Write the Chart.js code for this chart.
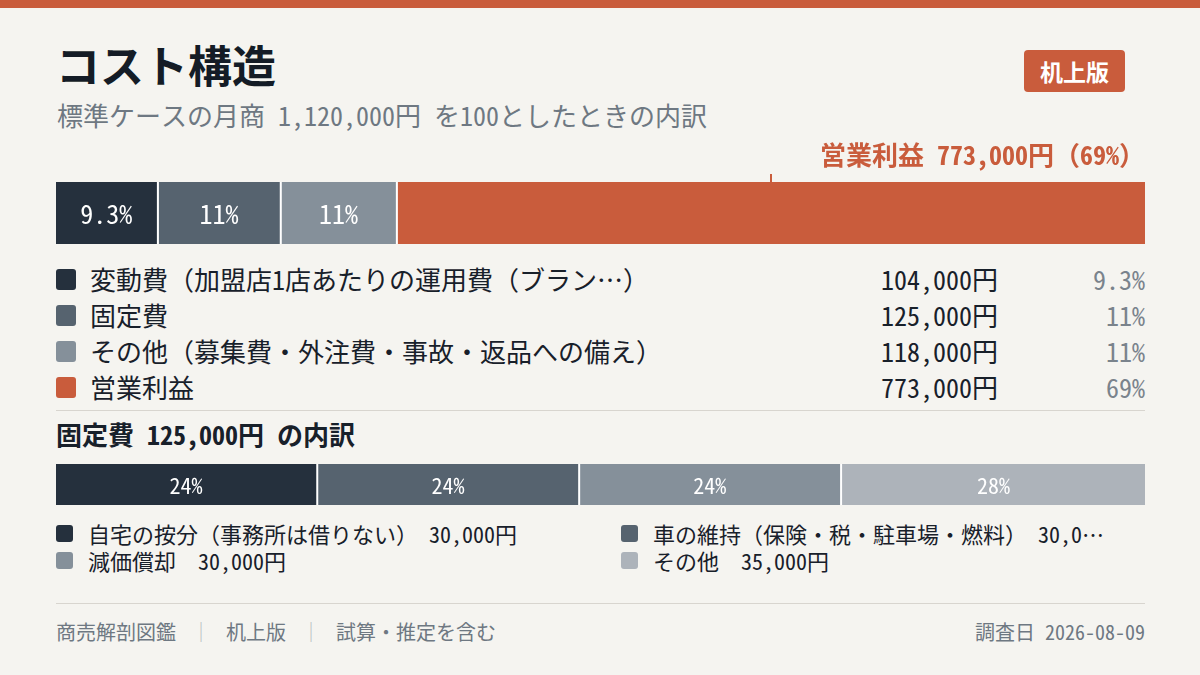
<!DOCTYPE html>
<html lang="ja">
<head>
<meta charset="utf-8">
<script src="https://cdn.jsdelivr.net/npm/chart.js@4.4.0/dist/chart.umd.min.js"></script>
<style>
  body {
    margin: 0;
    width: 1200px;
    height: 675px;
    background: #f5f4f0;
    font-family: "Noto Sans Mono CJK JP", "Noto Sans CJK JP", sans-serif;
    color: #18202a;
    position: relative;
    overflow: hidden;
  }
  .topbar { position: absolute; left: 0; top: 0; width: 1200px; height: 8px; background: #c95c3c; }
  .title { position: absolute; left: 56px; top: 42px; font-size: 44px; line-height: 44px; font-weight: 700; color: #141c26; }
  .subtitle { position: absolute; left: 57px; top: 102px; font-size: 26px; line-height: 26px; color: #6e7882; white-space: pre; }
  .badge {
    position: absolute; left: 1024px; top: 50px; width: 101px; height: 42px;
    background: #c95c3c; border-radius: 4px; color: #fff;
    font-size: 23px; font-weight: 700; line-height: 42px; text-align: center;
  }
  canvas { position: absolute; left: 56px; }
  #mainBar { top: 140px; }
  #fixedBar { top: 464px; }
  .legend { position: absolute; left: 56px; top: 261px; width: 1089px; }
  .row { position: relative; height: 36px; font-size: 26px; line-height: 36px; white-space: nowrap; }
  .sw { position: absolute; left: 0; top: 8px; width: 20px; height: 21px; border-radius: 3px; }
  .row .name { position: absolute; left: 34px; }
  .row .amt { position: absolute; right: 147px; color: #18202a; }
  .row .pct { position: absolute; right: 0; color: #7a838c; }
  .rule { position: absolute; left: 56px; width: 1089px; height: 1px; background: #d8d5cf; }
  .subhead { position: absolute; left: 56px; top: 421px; font-size: 26px; line-height: 26px; font-weight: 700; color: #18202a; white-space: pre; }
  .legend2 {
    position: absolute; left: 56px; top: 517px; width: 1053px;
    display: grid; grid-template-columns: 565px 488px; grid-auto-rows: 27px;
  }
  .item {
    position: relative; height: 32px; font-size: 22px; line-height: 32px;
    white-space: pre; overflow: hidden; text-overflow: ellipsis; padding-left: 32px;
  }
  .item .sw { top: 8px; width: 17px; height: 17px; }
  .footer { position: absolute; left: 56px; top: 620px; width: 1089px; font-size: 20px; line-height: 24px; color: #6e7882; }
  .footer .sep { color: #b9bdc2; margin: 0 15px; }
  .footer .date { position: absolute; right: 0; top: 0; }
</style>
</head>
<body>
<div class="topbar"></div>
<div class="title">コスト構造</div>
<div class="subtitle">標準ケースの月商 1,120,000円 を100としたときの内訳</div>
<div class="badge">机上版</div>

<canvas id="mainBar" width="1089" height="104"></canvas>
<div class="legend" id="legend"></div>
<div class="rule" style="top:410px"></div>

<div class="subhead">固定費 125,000円 の内訳</div>
<canvas id="fixedBar" width="1089" height="41"></canvas>
<div class="legend2" id="legend2"></div>

<div class="rule" style="top:603px"></div>
<div class="footer">商売解剖図鑑<span class="sep">｜</span>机上版<span class="sep">｜</span>試算・推定を含む<span class="date">調査日 2026-08-09</span></div>

<script>
const FONT = "'Noto Sans Mono CJK JP', 'Noto Sans CJK JP', sans-serif";
const BAR_WIDTH = 1089;
const GAP_PX = 2;

// 月商の内訳
const costNames = [
  '変動費（加盟店1店あたりの運用費（ブラン…）',
  '固定費',
  'その他（募集費・外注費・事故・返品への備え）',
  '営業利益',
];
const costValues = [104000, 125000, 118000, 773000];
const costColors = ['#25303d', '#56636f', '#85909a', '#c95c3c'];

// 固定費の内訳
const fixedNames = [
  '自宅の按分（事務所は借りない）',
  '車の維持（保険・税・駐車場・燃料）',
  '減価償却',
  'その他',
];
const fixedValues = [30000, 30000, 30000, 35000];
const fixedColors = ['#25303d', '#56636f', '#85909a', '#adb3ba'];

const sum = (arr) => arr.reduce((a, b) => a + b, 0);
const costTotal = sum(costValues);
const fixedTotal = sum(fixedValues);

function pct(v, total) {
  const p = (v / total) * 100;
  return (p < 10 ? p.toFixed(1) : Math.round(p)) + '%';
}
const yen = (v) => v.toLocaleString('en-US') + '円';

// 棒の中に％を書く
const segmentLabels = {
  id: 'segmentLabels',
  afterDatasetsDraw(chart, args, opts) {
    const ctx = chart.ctx;
    ctx.save();
    ctx.font = opts.font;
    ctx.fillStyle = '#ffffff';
    ctx.textAlign = 'center';
    ctx.textBaseline = 'middle';
    chart.data.datasets.forEach((ds, i) => {
      if (ds.segIndex === undefined || opts.skip.includes(ds.segIndex)) return;
      const bar = chart.getDatasetMeta(i).data[0];
      ctx.fillText(opts.texts[ds.segIndex], (bar.base + bar.x) / 2, bar.y + 1);
    });
    ctx.restore();
  },
};

// 営業利益の吹き出し
const profitCallout = {
  id: 'profitCallout',
  afterDatasetsDraw(chart) {
    const ctx = chart.ctx;
    const last = costValues.length - 1;
    const di = chart.data.datasets.findIndex((ds) => ds.segIndex === last);
    const bar = chart.getDatasetMeta(di).data[0];
    const cx = Math.round((bar.base + bar.x) / 2);
    const top = chart.chartArea.top;
    ctx.save();
    ctx.fillStyle = '#c95c3c';
    ctx.fillRect(cx - 1, top - 8, 2, 8);
    ctx.font = '700 26px ' + FONT;
    ctx.textAlign = 'right';
    ctx.textBaseline = 'middle';
    ctx.fillText(
      costNames[last] + ' ' + yen(costValues[last]) + '（' + pct(costValues[last], costTotal) + '）',
      chart.chartArea.right,
      15
    );
    ctx.restore();
  },
};

// 区切りの白いすき間を間に挟む
function makeDatasets(names, values, colors, total) {
  const gapValue = (total * GAP_PX) / (BAR_WIDTH - GAP_PX * (names.length - 1));
  const sets = [];
  names.forEach((name, i) => {
    if (i > 0) {
      sets.push({ label: 'gap', data: [gapValue], backgroundColor: '#ffffff', barPercentage: 1, categoryPercentage: 1 });
    }
    sets.push({
      label: name,
      segIndex: i,
      data: [values[i]],
      backgroundColor: colors[i],
      borderWidth: 0,
      barPercentage: 1,
      categoryPercentage: 1,
    });
  });
  return { sets, max: total + gapValue * (names.length - 1) };
}

function barOptions(max, padTop, labelOpts) {
  return {
    indexAxis: 'y',
    responsive: false,
    animation: false,
    layout: { padding: { top: padTop, left: 0, right: 0, bottom: 0 } },
    plugins: {
      legend: { display: false },
      tooltip: { enabled: false },
      segmentLabels: labelOpts,
    },
    scales: {
      x: { stacked: true, display: false, min: 0, max: max },
      y: { stacked: true, display: false },
    },
  };
}

const mainSets = makeDatasets(costNames, costValues, costColors, costTotal);
new Chart(document.getElementById('mainBar'), {
  type: 'bar',
  data: { labels: [''], datasets: mainSets.sets },
  options: barOptions(mainSets.max, 42, {
    font: '26px ' + FONT,
    texts: costValues.map((v) => pct(v, costTotal)),
    skip: [3],
  }),
  plugins: [segmentLabels, profitCallout],
});

const fixedSets = makeDatasets(fixedNames, fixedValues, fixedColors, fixedTotal);
new Chart(document.getElementById('fixedBar'), {
  type: 'bar',
  data: { labels: [''], datasets: fixedSets.sets },
  options: barOptions(fixedSets.max, 0, {
    font: '22px ' + FONT,
    texts: fixedValues.map((v) => pct(v, fixedTotal)),
    skip: [],
  }),
  plugins: [segmentLabels],
});

// 凡例
const legend = document.getElementById('legend');
costNames.forEach((name, i) => {
  const row = document.createElement('div');
  row.className = 'row';
  row.innerHTML =
    `<span class="sw" style="background:${costColors[i]}"></span>` +
    `<span class="name">${name}</span>` +
    `<span class="amt">${yen(costValues[i])}</span>` +
    `<span class="pct">${pct(costValues[i], costTotal)}</span>`;
  legend.appendChild(row);
});

const legend2 = document.getElementById('legend2');
fixedNames.forEach((name, i) => {
  const item = document.createElement('div');
  item.className = 'item';
  item.innerHTML =
    `<span class="sw" style="background:${fixedColors[i]}"></span>` +
    `${name}　${yen(fixedValues[i])}`;
  legend2.appendChild(item);
});
</script>
</body>
</html>
